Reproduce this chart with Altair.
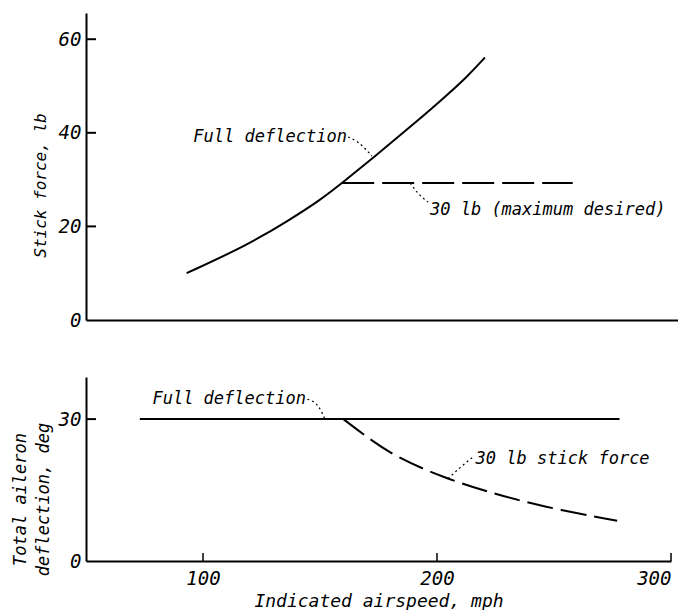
import altair as alt
import pandas as pd

FONT = "DejaVu Sans Mono"

# ---------------- data ----------------
# Top panel: stick force (lb) vs indicated airspeed (mph)
full_speed = [93, 119, 137, 150, 159.5, 173, 187, 201, 213, 220.5]
full_force = [10.0, 16.0, 21.4, 25.6, 29.3, 34.8, 40.6, 46.6, 52.0, 56.1]
limit_speed = [159.5, 258]
limit_force = [29.3, 29.3]

# Bottom panel: total aileron deflection (deg) vs indicated airspeed (mph)
defl_full_speed = [73, 278]
defl_full_deg = [30, 30]
defl_30lb_speed = [160, 170, 183, 203, 223, 245, 277]
defl_30lb_deg = [30.0, 26.2, 21.8, 17.6, 14.4, 11.5, 8.5]

top_y_ticks = [0, 20, 40, 60]
top_inner_ticks = [20, 40, 60]
bottom_y_ticks = [0, 30]
bottom_inner_ticks = [30]
x_ticks = [100, 200, 300]

# annotation texts and leader lines
top_text_1 = "Full deflection"
top_text_1_pos = (161.5, 39.1)
top_leader_1_x = [162.0, 166.2, 172.2]
top_leader_1_y = [39.1, 38.0, 35.0]

top_text_2 = "30 lb (maximum desired)"
top_text_2_pos = (197.0, 23.5)
top_leader_2_x = [188.5, 191.9, 196.2]
top_leader_2_y = [29.3, 27.1, 25.2]

bot_text_1 = "Full deflection"
bot_text_1_pos = (144.0, 34.2)
bot_leader_1_x = [144.6, 149.1, 152.1]
bot_leader_1_y = [34.2, 32.8, 30.0]

bot_text_2 = "30 lb stick force"
bot_text_2_pos = (216.5, 21.6)
bot_leader_2_x = [204.7, 210.0, 215.4]
bot_leader_2_y = [17.4, 19.8, 22.0]

# ---------------- scales / axes ----------------
xs_top = alt.Scale(domain=[50, 303], nice=False, zero=False)
ys_top = alt.Scale(domain=[0, 65.6], nice=False)
xs_bot = alt.Scale(domain=[50, 300], nice=False, zero=False)
ys_bot = alt.Scale(domain=[0, 38.9], nice=False)

common = dict(grid=False, ticks=False, domainColor="black", domainWidth=2,
              labelFont=FONT, labelFontStyle="italic", labelFontSize=19,
              labelColor="black", titleFont=FONT, titleFontStyle="italic",
              titleFontWeight="normal", titleColor="black")

ax_top_x = alt.Axis(title=None, labels=False, **common)
ax_top_y = alt.Axis(values=top_y_ticks, title="Stick force, lb", labelPadding=5,
                    titleFontSize=16, titleX=-46, titleY=172, titleAngle=270,
                    titleAlign="center", titleBaseline="middle", **common)
ax_bot_x = alt.Axis(values=x_ticks, title="Indicated airspeed, mph", labelPadding=8,
                    titleFontSize=18, titleY=40, titleBaseline="middle", **common)
ax_bot_y = alt.Axis(values=bottom_y_ticks, title=["Total aileron", "deflection, deg"],
                    labelPadding=5, titleFontSize=17, titleX=-65.5, titleY=122,
                    titleAngle=270, titleAlign="center", titleBaseline="middle",
                    titleLineHeight=23, **common)


def X(field, scale, axis):
    return alt.X(field, type="quantitative", scale=scale, axis=axis)


def Y(field, scale, axis):
    return alt.Y(field, type="quantitative", scale=scale, axis=axis)


def leader(xv, yv, xs, ys, ax, ay):
    df = pd.DataFrame({"x": xv, "y": yv})
    return alt.Chart(df).mark_line(color="black", strokeWidth=1.2, strokeDash=[2, 3],
                                   interpolate="monotone").encode(
        x=X("x", xs, ax), y=Y("y", ys, ay))


def label(text, pos, align, xs, ys, ax, ay):
    df = pd.DataFrame({"x": [pos[0]], "y": [pos[1]], "t": [text]})
    return alt.Chart(df).mark_text(font=FONT, fontStyle="italic", fontSize=17,
                                   color="black", align=align, baseline="middle").encode(
        x=X("x", xs, ax), y=Y("y", ys, ay), text="t:N")


# ---------------- top panel ----------------
df_full = pd.DataFrame({"x": full_speed, "y": full_force})
df_limit = pd.DataFrame({"x": limit_speed, "y": limit_force})
df_top_ticks = pd.DataFrame({"y": top_inner_ticks})

top_curve = alt.Chart(df_full).mark_line(color="black", strokeWidth=2,
                                         interpolate="basis").encode(
    x=X("x", xs_top, ax_top_x), y=Y("y", ys_top, ax_top_y))
top_limit = alt.Chart(df_limit).mark_line(color="black", strokeWidth=2,
                                          strokeDash=[32, 8]).encode(
    x=X("x", xs_top, ax_top_x), y=Y("y", ys_top, ax_top_y))
top_ticks = alt.Chart(df_top_ticks).mark_rule(color="black", strokeWidth=2).encode(
    x=alt.value(0), x2=alt.value(10), y=Y("y", ys_top, ax_top_y))

top = alt.layer(
    top_curve, top_limit, top_ticks,
    leader(top_leader_1_x, top_leader_1_y, xs_top, ys_top, ax_top_x, ax_top_y),
    leader(top_leader_2_x, top_leader_2_y, xs_top, ys_top, ax_top_x, ax_top_y),
    label(top_text_1, top_text_1_pos, "right", xs_top, ys_top, ax_top_x, ax_top_y),
    label(top_text_2, top_text_2_pos, "left", xs_top, ys_top, ax_top_x, ax_top_y),
).properties(width=592, height=307)

# ---------------- bottom panel ----------------
df_dfull = pd.DataFrame({"x": defl_full_speed, "y": defl_full_deg})
df_d30 = pd.DataFrame({"x": defl_30lb_speed, "y": defl_30lb_deg})
df_bot_yticks = pd.DataFrame({"y": bottom_inner_ticks})
df_bot_xticks = pd.DataFrame({"x": x_ticks})

bot_full = alt.Chart(df_dfull).mark_line(color="black", strokeWidth=2).encode(
    x=X("x", xs_bot, ax_bot_x), y=Y("y", ys_bot, ax_bot_y))
bot_30 = alt.Chart(df_d30).mark_line(color="black", strokeWidth=2, strokeDash=[26, 8],
                                     interpolate="basis").encode(
    x=X("x", xs_bot, ax_bot_x), y=Y("y", ys_bot, ax_bot_y))
bot_yticks = alt.Chart(df_bot_yticks).mark_rule(color="black", strokeWidth=2).encode(
    x=alt.value(0), x2=alt.value(10), y=Y("y", ys_bot, ax_bot_y))
bot_xticks = alt.Chart(df_bot_xticks).mark_rule(color="black", strokeWidth=1.5).encode(
    x=X("x", xs_bot, ax_bot_x), y=alt.value(184), y2=alt.value(176))

bottom = alt.layer(
    bot_full, bot_30, bot_yticks, bot_xticks,
    leader(bot_leader_1_x, bot_leader_1_y, xs_bot, ys_bot, ax_bot_x, ax_bot_y),
    leader(bot_leader_2_x, bot_leader_2_y, xs_bot, ys_bot, ax_bot_x, ax_bot_y),
    label(bot_text_1, bot_text_1_pos, "right", xs_bot, ys_bot, ax_bot_x, ax_bot_y),
    label(bot_text_2, bot_text_2_pos, "left", xs_bot, ys_bot, ax_bot_x, ax_bot_y),
).properties(width=585, height=184)

chart = alt.vconcat(top, bottom, spacing=47).properties(
    padding={"left": 3, "top": 5, "right": 0, "bottom": 0},
    background="white",
).configure_view(stroke=None)

chart.save("out.html", embed_options={"renderer": "svg", "actions": False})
